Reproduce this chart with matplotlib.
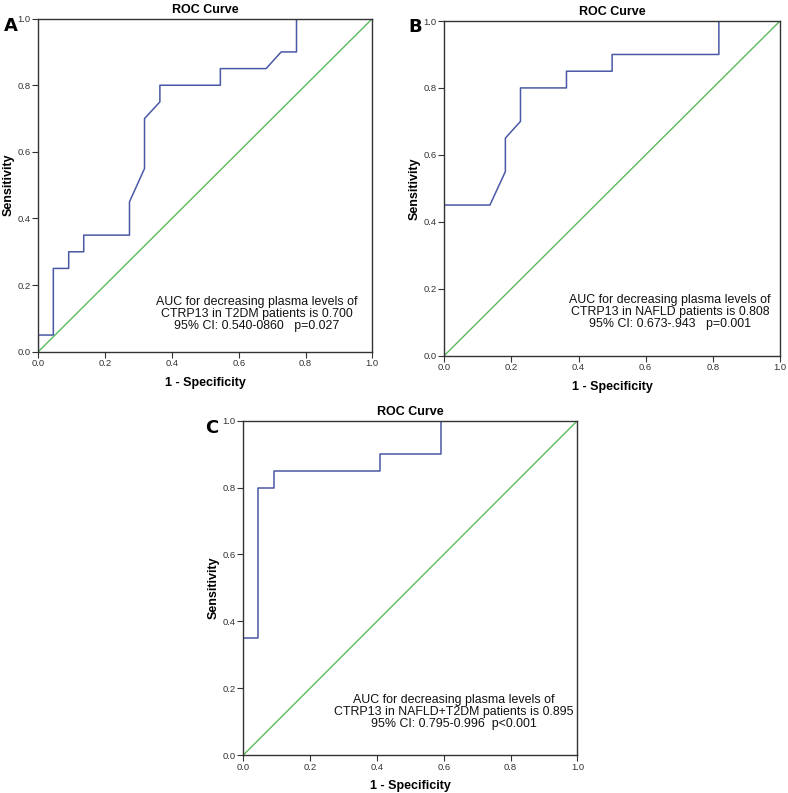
import matplotlib
matplotlib.use("Agg")
import matplotlib.pyplot as plt
import numpy as np

plt.rcParams["font.family"] = ["Liberation Sans", "DejaVu Sans"]

# ROC curve vertices (1 - specificity, sensitivity)
fpr_a = [0.0, 0.0, 0.045, 0.045, 0.091, 0.091, 0.136, 0.136, 0.273, 0.273,
         0.318, 0.318, 0.364, 0.364, 0.545, 0.545, 0.682, 0.727, 0.773, 0.773, 1.0]
tpr_a = [0.0, 0.05, 0.05, 0.25, 0.25, 0.30, 0.30, 0.35, 0.35, 0.45,
         0.55, 0.70, 0.75, 0.80, 0.80, 0.85, 0.85, 0.90, 0.90, 1.0, 1.0]

fpr_b = [0.0, 0.0, 0.136, 0.182, 0.182, 0.227, 0.227, 0.364, 0.364,
         0.5, 0.5, 0.818, 0.818, 1.0]
tpr_b = [0.0, 0.45, 0.45, 0.55, 0.65, 0.70, 0.80, 0.80, 0.85,
         0.85, 0.90, 0.90, 1.0, 1.0]

fpr_c = [0.0, 0.0, 0.045, 0.045, 0.091, 0.091, 0.409, 0.409, 0.591, 0.591, 1.0]
tpr_c = [0.0, 0.35, 0.35, 0.80, 0.80, 0.85, 0.85, 0.90, 0.90, 1.0, 1.0]

notes = [
    "AUC for decreasing plasma levels of\nCTRP13 in T2DM patients is 0.700\n95% CI: 0.540-0860   p=0.027",
    "AUC for decreasing plasma levels of\nCTRP13 in NAFLD patients is 0.808\n95% CI: 0.673-.943   p=0.001",
    "AUC for decreasing plasma levels of\nCTRP13 in NAFLD+T2DM patients is 0.895\n95% CI: 0.795-0.996  p<0.001",
]
letters = ["A", "B", "C"]
ticks = [0.0, 0.2, 0.4, 0.6, 0.8, 1.0]

W, H = 788, 793
# axes rectangles in figure fraction
rects = [
    (0.0486, 0.5565, 0.4239, 0.4200),
    (0.5638, 0.5516, 0.4260, 0.4219),
    (0.3088, 0.0479, 0.4239, 0.4216),
]
note_pos = [(0.654, 0.112), (0.672, 0.129), (0.629, 0.128)]
# panel letter centres in pixels from top-left
letter_px = [(11, 26), (415, 27), (212, 428)]

CURVE = "#4a59a6"
DIAG = "#5cba5c"
FRAME = "#333333"

fig = plt.figure(figsize=(W / 100, H / 100), dpi=100)

for rect, fpr, tpr, note, npos, letter, lpx in zip(
        rects, [fpr_a, fpr_b, fpr_c], [tpr_a, tpr_b, tpr_c],
        notes, note_pos, letters, letter_px):
    ax = fig.add_axes(rect)
    ax.plot([0, 1], [0, 1], color=DIAG, lw=1.0)
    ax.plot(fpr, tpr, color=CURVE, lw=1.1)
    ax.set_xlim(0, 1)
    ax.set_ylim(0, 1)
    ax.set_xticks(ticks)
    ax.set_yticks(ticks)
    ax.set_xticklabels([f"{t:.1f}" for t in ticks])
    ax.set_yticklabels([f"{t:.1f}" for t in ticks])
    ax.tick_params(direction="out", length=4, width=0.8, labelsize=6.8,
                   colors=FRAME, pad=1.5)
    for sp in ax.spines.values():
        sp.set_color(FRAME)
        sp.set_linewidth(1.0)
    ax.set_xlabel("1 - Specificity", fontsize=9, fontweight="bold", labelpad=6)
    ax.set_ylabel("Sensitivity", fontsize=9, fontweight="bold", labelpad=2)
    ax.set_title("ROC Curve", fontsize=9, fontweight="bold", pad=4)
    ax.text(npos[0], npos[1], note, ha="center", va="center", fontsize=8.9,
            linespacing=1.0, color="#111111")
    fig.text(lpx[0] / W, 1 - lpx[1] / H, letter, ha="center", va="center",
             fontsize=13, fontweight="bold", family="DejaVu Sans")

fig.savefig("out.png", dpi=100)
